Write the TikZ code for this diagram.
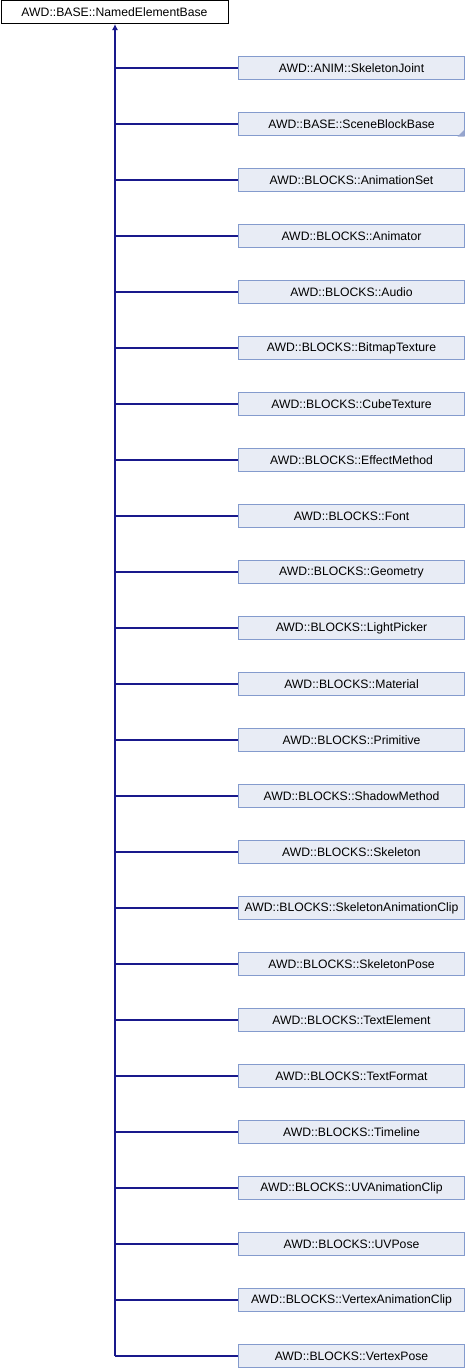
\documentclass[tikz,border=0pt]{standalone}
\usepackage{fontspec}
\setmainfont{Liberation Sans}
\usetikzlibrary{arrows.meta}
\definecolor{boxfill}{RGB}{232,236,245}
\definecolor{boxline}{RGB}{132,155,205}
\definecolor{edgecol}{RGB}{25,25,140}
\definecolor{moretri}{RGB}{150,165,205}
\begin{document}
\begin{tikzpicture}[x=1pt,y=-1pt,
  basebox/.style={draw=black,fill=white,line width=1pt,minimum width=227pt,minimum height=23pt,inner sep=0pt,font=\fontsize{12.2}{14}\selectfont,anchor=center},
  childbox/.style={draw=boxline,fill=boxfill,line width=1pt,minimum width=226pt,minimum height=23pt,inner sep=0pt,font=\fontsize{12.2}{14}\selectfont,anchor=center},
  edge/.style={draw=edgecol,line width=1.1pt}]
\useasboundingbox (0,0) rectangle (466,1368);
\node[basebox] (base) at (114.5,12) {AWD::BASE::NamedElementBase};
\foreach \name/\txt [count=\i from 0] in {
 c0/AWD::ANIM::SkeletonJoint,
 c1/AWD::BASE::SceneBlockBase,
 c2/AWD::BLOCKS::AnimationSet,
 c3/AWD::BLOCKS::Animator,
 c4/AWD::BLOCKS::Audio,
 c5/AWD::BLOCKS::BitmapTexture,
 c6/AWD::BLOCKS::CubeTexture,
 c7/AWD::BLOCKS::EffectMethod,
 c8/AWD::BLOCKS::Font,
 c9/AWD::BLOCKS::Geometry,
 c10/AWD::BLOCKS::LightPicker,
 c11/AWD::BLOCKS::Material,
 c12/AWD::BLOCKS::Primitive,
 c13/AWD::BLOCKS::ShadowMethod,
 c14/AWD::BLOCKS::Skeleton,
 c15/AWD::BLOCKS::SkeletonAnimationClip,
 c16/AWD::BLOCKS::SkeletonPose,
 c17/AWD::BLOCKS::TextElement,
 c18/AWD::BLOCKS::TextFormat,
 c19/AWD::BLOCKS::Timeline,
 c20/AWD::BLOCKS::UVAnimationClip,
 c21/AWD::BLOCKS::UVPose,
 c22/AWD::BLOCKS::VertexAnimationClip,
 c23/AWD::BLOCKS::VertexPose}{
  \node[childbox] (\name) at (351.5,{68+56*\i}) {\txt};
  \coordinate (j\i) at (115,{68+56*\i});
  \draw[edge] (j\i) -- (\name.west);
}
\fill[moretri] ([xshift=-0.5pt,yshift=-0.5pt]c1.south east) -- ++(-7,0) -- ++(7,-7) -- cycle;
\draw[edge,-{Latex[length=6pt,width=6pt]}] (j23) -- (base.south -| j23);
\end{tikzpicture}
\end{document}
